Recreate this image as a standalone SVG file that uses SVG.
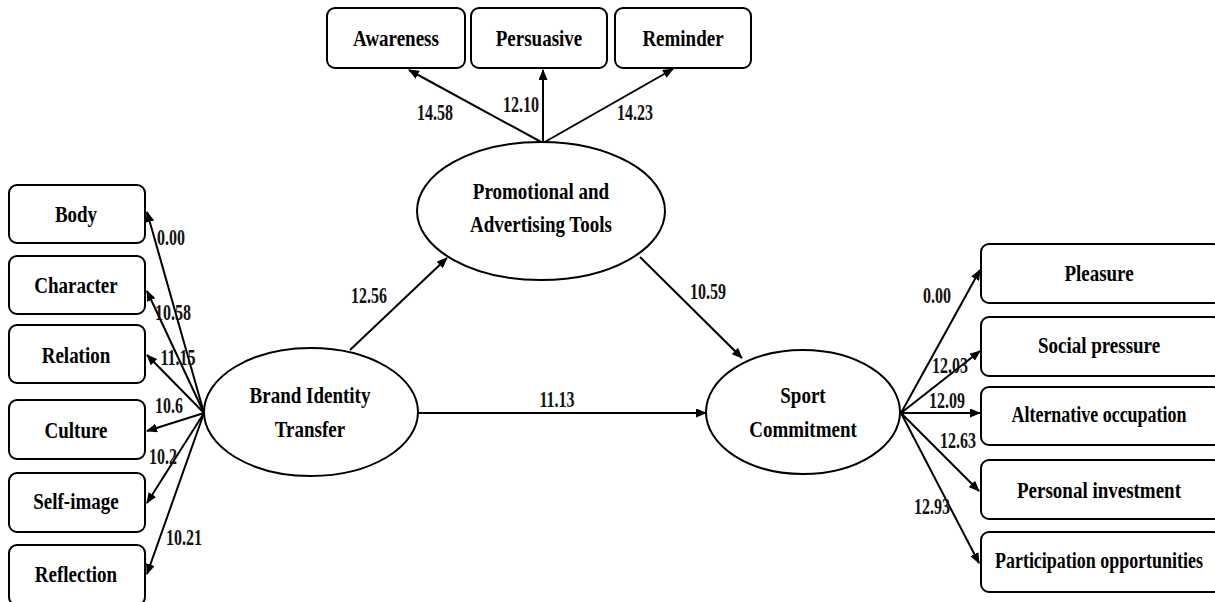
<svg xmlns="http://www.w3.org/2000/svg" width="1215" height="602" viewBox="0 0 1215 602">
<style>
.box{fill:#fff;stroke:#000;stroke-width:2}
.ell{fill:#fff;stroke:#000;stroke-width:2}
.edge{stroke:#000;stroke-width:2;fill:none;marker-end:url(#ah)}
text{font-family:"Liberation Serif","Times New Roman",serif;font-weight:bold;text-anchor:middle;dominant-baseline:central;transform-box:fill-box;transform-origin:center;fill:#000}
.lbl{font-size:19px;transform:scaleY(1.2)}
.num{font-size:16px;transform:scaleY(1.45);fill:#111}
</style>
<defs>
<marker id="ah" markerWidth="11" markerHeight="9" refX="10" refY="4.5" orient="auto" markerUnits="userSpaceOnUse">
<path d="M0,0 L11,4.5 L0,9 z" fill="#000"/>
</marker>
</defs>
<rect width="1215" height="602" fill="#fff"/>
<g id="connectors">
<line class="edge" x1="543" y1="143" x2="409" y2="70"/>
<line class="edge" x1="543" y1="143" x2="543" y2="70"/>
<line class="edge" x1="543" y1="143" x2="673" y2="69"/>
<line class="edge" x1="350" y1="350" x2="447" y2="258"/>
<line class="edge" x1="640" y1="257" x2="742" y2="358"/>
<line class="edge" x1="418" y1="413" x2="706" y2="413"/>
<line class="edge" x1="204" y1="413" x2="147" y2="212"/>
<line class="edge" x1="204" y1="413" x2="147" y2="291"/>
<line class="edge" x1="204" y1="413" x2="147" y2="355"/>
<line class="edge" x1="204" y1="413" x2="147" y2="431"/>
<line class="edge" x1="204" y1="413" x2="147" y2="503"/>
<line class="edge" x1="204" y1="413" x2="147" y2="574"/>
<line class="edge" x1="901" y1="413" x2="980" y2="270"/>
<line class="edge" x1="901" y1="413" x2="980" y2="351"/>
<line class="edge" x1="901" y1="413" x2="980" y2="413"/>
<line class="edge" x1="901" y1="413" x2="979" y2="491"/>
<line class="edge" x1="901" y1="413" x2="979" y2="563"/>
<text class="num" x="435" y="112">14.58</text>
<text class="num" x="521" y="104">12.10</text>
<text class="num" x="635" y="112">14.23</text>
<text class="num" x="369" y="295">12.56</text>
<text class="num" x="708" y="291">10.59</text>
<text class="num" x="557" y="399">11.13</text>
<text class="num" x="171" y="237">0.00</text>
<text class="num" x="173" y="312">10.58</text>
<text class="num" x="178" y="357">11.15</text>
<text class="num" x="169" y="405">10.6</text>
<text class="num" x="163" y="456">10.2</text>
<text class="num" x="184" y="537">10.21</text>
<text class="num" x="937" y="295">0.00</text>
<text class="num" x="950" y="365">12.03</text>
<text class="num" x="947" y="400">12.09</text>
<text class="num" x="958" y="440">12.63</text>
<text class="num" x="932" y="506">12.93</text>
</g>
<g id="awareness"><rect class="box" x="327" y="8" width="138" height="60" rx="8"/><text class="lbl" x="396" y="38">Awareness</text></g>
<g id="persuasive"><rect class="box" x="471" y="8" width="136" height="60" rx="8"/><text class="lbl" x="539" y="38">Persuasive</text></g>
<g id="reminder"><rect class="box" x="615" y="8" width="136" height="60" rx="8"/><text class="lbl" x="683" y="38">Reminder</text></g>
<g id="promo"><ellipse class="ell" cx="541" cy="211" rx="124" ry="69"/><text class="lbl" x="541" y="191">Promotional and</text><text class="lbl" x="541" y="224">Advertising Tools</text></g>
<g id="bit"><ellipse class="ell" cx="311" cy="412" rx="107" ry="64"/><text class="lbl" x="310" y="395">Brand Identity</text><text class="lbl" x="310" y="429">Transfer</text></g>
<g id="sc"><ellipse class="ell" cx="803" cy="412" rx="97" ry="62"/><text class="lbl" x="803" y="395">Sport</text><text class="lbl" x="803" y="429">Commitment</text></g>
<g id="body"><rect class="box" x="9" y="185" width="136" height="58" rx="8"/><text class="lbl" x="76" y="214">Body</text></g>
<g id="character"><rect class="box" x="9" y="256" width="136" height="58" rx="8"/><text class="lbl" x="76" y="285">Character</text></g>
<g id="relation"><rect class="box" x="9" y="325" width="136" height="58" rx="8"/><text class="lbl" x="76" y="355">Relation</text></g>
<g id="culture"><rect class="box" x="9" y="400" width="136" height="59" rx="8"/><text class="lbl" x="76" y="430">Culture</text></g>
<g id="selfimage"><rect class="box" x="9" y="473" width="136" height="59" rx="8"/><text class="lbl" x="76" y="501">Self-image</text></g>
<g id="reflection"><rect class="box" x="9" y="545" width="136" height="60" rx="8"/><text class="lbl" x="76" y="574">Reflection</text></g>
<g id="pleasure"><rect class="box" x="981" y="244" width="240" height="59" rx="8"/><text class="lbl" x="1099" y="273">Pleasure</text></g>
<g id="social"><rect class="box" x="981" y="317" width="240" height="59" rx="8"/><text class="lbl" x="1099" y="345">Social pressure</text></g>
<g id="alternative"><rect class="box" x="981" y="387" width="240" height="58" rx="8"/><text class="lbl" x="1099" y="414" textLength="175" lengthAdjust="spacingAndGlyphs">Alternative occupation</text></g>
<g id="personal"><rect class="box" x="981" y="460" width="240" height="59" rx="8"/><text class="lbl" x="1099" y="490">Personal investment</text></g>
<g id="participation"><rect class="box" x="981" y="532" width="240" height="60" rx="8"/><text class="lbl" x="1099" y="560" textLength="208" lengthAdjust="spacingAndGlyphs">Participation opportunities</text></g>
</svg>
